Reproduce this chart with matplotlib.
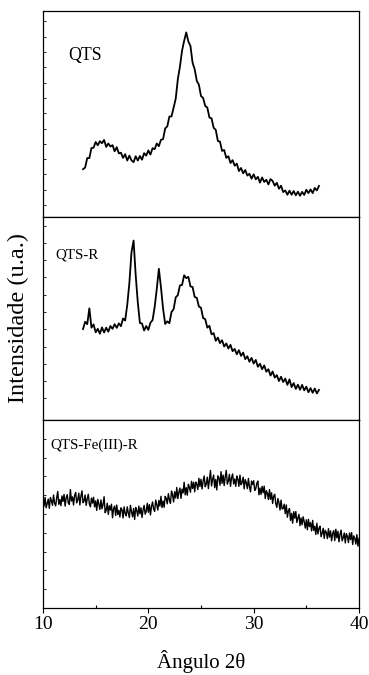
import numpy as np
import matplotlib
matplotlib.use("Agg")
import matplotlib.pyplot as plt

plt.rcParams['font.family'] = ['Liberation Serif', 'DejaVu Serif']

# two-theta grids (deg)
x_qts = np.arange(13.8, 36.21, 0.2)
x_qtsr = np.arange(13.8, 36.21, 0.2)
x_fe = np.arange(10.0, 40.001, 0.1)

# intensities (a.u.)
qts = [23.2, 24.0, 28.6, 28.6, 33.5, 33.6, 36.4, 34.8, 36.8, 35.8,
       37.4, 34.0, 35.7, 34.2, 34.9, 31.9, 33.9, 30.9, 31.2, 28.7,
       30.5, 27.4, 29.8, 27.5, 26.6, 29.5, 27.4, 29.6, 27.8, 31.0,
       29.8, 32.3, 30.3, 33.4, 32.9, 35.7, 34.4, 37.5, 37.8, 43.0,
       44.0, 48.8, 48.8, 53.1, 57.4, 66.9, 73.0, 80.7, 85.5, 89.6,
       85.2, 83.0, 74.9, 71.7, 66.1, 64.2, 58.7, 57.8, 53.9, 53.1,
       48.3, 47.9, 43.3, 42.3, 36.9, 36.6, 32.1, 32.5, 28.7, 29.5,
       26.2, 27.6, 24.9, 25.9, 22.3, 23.8, 21.2, 22.8, 20.1, 21.0,
       18.6, 20.7, 18.3, 19.5, 16.7, 19.2, 17.0, 18.1, 15.8, 18.4,
       17.5, 15.2, 16.6, 13.7, 15.2, 12.1, 12.9, 10.8, 12.8, 10.8,
       12.6, 10.5, 12.3, 10.3, 12.2, 10.7, 13.2, 11.6, 13.4, 11.6,
       14.1, 12.9, 15.1]

qts_r = [44.8, 48.4, 47.2, 55.0, 45.5, 47.1, 43.2, 44.9, 42.5, 45.6,
         43.1, 45.5, 43.5, 46.3, 44.9, 47.2, 45.4, 47.6, 46.2, 50.0,
         49.0, 56.8, 67.5, 82.6, 88.4, 71.3, 57.9, 47.8, 47.5, 44.1,
         46.3, 44.4, 47.9, 49.2, 55.6, 64.5, 74.5, 65.3, 54.8, 47.3,
         48.6, 47.7, 53.2, 54.6, 60.4, 61.5, 66.3, 66.5, 71.3, 69.9,
         70.5, 65.8, 65.5, 60.6, 60.2, 55.9, 55.3, 50.2, 49.7, 45.5,
         46.4, 42.2, 42.8, 39.0, 40.6, 37.9, 39.3, 36.2, 37.7, 35.2,
         37.0, 33.9, 35.0, 32.4, 34.4, 31.6, 33.2, 30.0, 31.4, 28.7,
         30.6, 27.8, 29.6, 26.2, 27.7, 25.0, 26.9, 23.8, 25.0, 21.9,
         23.9, 20.9, 22.1, 19.2, 21.3, 18.7, 20.4, 17.3, 20.0, 16.2,
         18.2, 15.3, 17.4, 14.9, 17.3, 14.6, 16.4, 13.7, 15.7, 13.4,
         15.5, 13.1, 14.8]

qts_fe_r = [57.6, 54.2, 58.8, 53.3, 55.5, 57.9, 53.0, 58.7, 57.1, 54.6,
            60.1, 55.8, 54.3, 58.6, 62.0, 55.1, 57.7, 54.4, 59.6, 56.7,
            60.4, 54.2, 58.6, 60.3, 55.9, 55.1, 63.0, 56.9, 59.1, 54.8,
            59.9, 61.4, 55.9, 57.6, 61.1, 54.8, 59.5, 62.3, 56.0, 56.9,
            60.1, 54.6, 58.1, 60.5, 55.4, 53.8, 58.5, 55.8, 58.9, 53.8,
            57.0, 51.9, 57.8, 55.3, 52.4, 57.5, 52.8, 55.0, 59.2, 50.7,
            52.0, 55.7, 49.8, 54.4, 52.1, 55.2, 48.0, 52.9, 54.2, 49.2,
            54.8, 49.7, 52.0, 48.4, 53.3, 52.3, 47.9, 53.8, 50.3, 49.0,
            53.8, 50.5, 48.1, 54.6, 51.3, 48.5, 52.9, 47.1, 53.5, 51.8,
            48.9, 54.2, 50.1, 53.3, 48.1, 52.1, 54.6, 49.9, 51.4, 55.7,
            50.9, 55.0, 49.5, 54.0, 56.4, 52.7, 51.4, 57.4, 55.0, 52.1,
            57.2, 54.2, 59.4, 53.4, 56.9, 53.6, 59.4, 58.3, 55.4, 60.8,
            57.6, 55.7, 62.2, 60.3, 56.4, 61.8, 58.5, 64.1, 58.2, 61.6,
            63.8, 58.3, 63.2, 61.2, 66.9, 60.2, 64.0, 60.0, 65.8, 64.2,
            61.6, 67.4, 63.6, 66.9, 61.8, 67.0, 65.8, 63.0, 69.0, 64.6,
            68.5, 63.3, 67.4, 70.2, 64.5, 66.0, 69.6, 63.5, 68.6, 73.2,
            64.9, 68.4, 70.7, 64.0, 68.4, 62.8, 70.3, 69.2, 65.3, 72.5,
            66.3, 70.7, 65.1, 69.7, 73.2, 65.9, 67.6, 71.1, 64.7, 69.2,
            71.3, 66.0, 68.6, 64.7, 70.2, 68.6, 64.7, 70.7, 65.6, 66.7,
            69.6, 63.4, 68.3, 66.7, 63.5, 68.9, 64.5, 61.8, 67.5, 65.7,
            67.7, 62.5, 63.5, 66.3, 67.5, 60.2, 63.8, 60.4, 64.7, 61.3,
            64.8, 58.2, 62.4, 61.0, 57.7, 63.0, 57.8, 61.3, 55.6, 59.5,
            60.5, 55.6, 53.5, 58.2, 56.1, 52.1, 57.4, 52.7, 52.9, 55.2,
            50.2, 54.8, 48.3, 51.7, 52.9, 46.6, 50.3, 45.1, 51.2, 47.8,
            51.3, 45.5, 47.9, 49.8, 43.8, 47.9, 44.3, 48.5, 45.9, 42.5,
            46.9, 41.6, 47.2, 43.3, 45.4, 41.0, 46.6, 41.3, 43.5, 39.1,
            45.1, 39.4, 42.4, 43.5, 37.9, 39.8, 42.4, 37.0, 41.3, 40.2,
            36.9, 42.2, 37.7, 41.0, 35.7, 39.6, 41.2, 35.8, 41.9, 37.3,
            40.8, 35.2, 39.2, 41.4, 35.7, 37.4, 39.9, 34.6, 39.5, 38.1,
            34.8, 39.9, 36.4, 40.1, 33.8, 38.4, 37.1, 34.0, 39.0, 32.9,
            37.0]

labels = ['QTS', 'QTS-R', 'QTS-Fe(III)-R']

fig = plt.figure(figsize=(3.69, 6.75), dpi=100)
gs = fig.add_gridspec(3, 1, height_ratios=[206, 203, 188], hspace=0,
                      left=43/369, right=359/369, top=1-11/675, bottom=1-608/675)
axes = [fig.add_subplot(gs[i]) for i in range(3)]

series = [(x_qts, qts), (x_qtsr, qts_r), (x_fe, qts_fe_r)]
widths = [1.3, 1.3, 1.0]
yticks = [np.arange(5.8, 96, 7.43), np.arange(10.7, 98, 8.5), np.arange(10, 95, 10)]
for ax, (xx, yy), lw, yt in zip(axes, series, widths, yticks):
    ax.plot(xx, yy, color='black', lw=lw)
    ax.set_xlim(10, 40)
    ax.set_ylim(0, 100)
    ax.set_yticks(yt)
    ax.tick_params(axis='y', direction='in', length=2.5, width=0.6, labelleft=False)
    for s in ax.spines.values():
        s.set_linewidth(0.9)

axes[0].text(12.4, 78.6, labels[0], fontsize=12.8, va='center')
axes[1].text(11.15, 81.5, labels[1], fontsize=10.8, va='center')
axes[2].text(10.7, 86.7, labels[2], fontsize=10.8, va='center')

for ax in axes[:2]:
    ax.tick_params(axis='x', bottom=False, labelbottom=False)
axes[2].set_xticks([10, 20, 30, 40])
axes[2].set_xticks([15, 25, 35], minor=True)
axes[2].tick_params(axis='x', which='major', direction='out', length=3.5, width=0.8,
                    labelsize=14, pad=2)
axes[2].tick_params(axis='x', which='minor', direction='in', length=2.5, width=0.8)
axes[2].set_xlabel('Ângulo 2θ', fontsize=15, labelpad=12.5)

fig.text(18/369, 1-318/675, 'Intensidade (u.a.)', rotation=90, fontsize=17.5,
         ha='center', va='center')

fig.savefig('out.png', dpi=100)
